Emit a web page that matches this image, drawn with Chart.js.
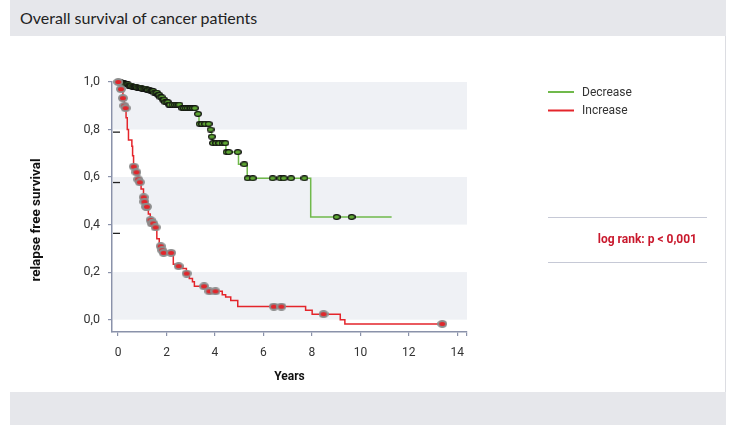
<!DOCTYPE html>
<html>
<head>
<meta charset="utf-8">
<script src="https://cdn.jsdelivr.net/npm/chart.js@4.4.0/dist/chart.umd.min.js"></script>
<style>
  body { margin: 0; width: 734px; height: 425px; overflow: hidden; position: relative; background: #fff; }
  #head { position: absolute; left: 10px; top: 0; width: 716px; height: 36px; background: #e6e7eb; }
  #head span { position: absolute; left: 10px; top: 8px; font: 16px Lato, sans-serif; color: #222; }
  #panel { position: absolute; left: 10px; top: 36px; width: 715px; height: 356px; background: #fff; border-right: 1px solid #dcdde2; }
  #foot { position: absolute; left: 10px; top: 392px; width: 716px; height: 33px; background: #e6e7eb; }
  #myChart { position: absolute; left: 0; top: 0; }
</style>
</head>
<body>
<div id="head"><span>Overall survival of cancer patients</span></div>
<div id="panel"></div>
<div id="foot"></div>
<canvas id="myChart" width="734" height="425"></canvas>
<script>
// groups in the legend
const groups = ['Decrease', 'Increase'];

// Kaplan-Meier steps (years, survival from that time on)
const decTime = [0, 0.15, 0.3, 0.45, 0.6, 0.8, 1.0, 1.2, 1.35, 1.5, 1.62, 1.75, 1.85, 1.95, 2.1, 2.6, 3.24, 3.34, 3.81, 3.86, 3.9, 4.45, 4.97, 5.33, 7.95, 11.29];
const decSurv = [1.0, 0.995, 0.99, 0.985, 0.98, 0.976, 0.972, 0.967, 0.962, 0.955, 0.946, 0.936, 0.926, 0.915, 0.905, 0.89, 0.866, 0.824, 0.80, 0.77, 0.743, 0.705, 0.654, 0.595, 0.432, 0.432];
// censored times (the little ellipses)
const decCensor = [0.02, 0.05, 0.1, 0.15, 0.2, 0.25, 0.3, 0.35, 0.4, 0.45, 0.5, 0.55, 0.6, 0.65, 0.7, 0.75, 0.8, 0.85, 0.9, 0.95,
  1.0, 1.05, 1.1, 1.15, 1.2, 1.25, 1.3, 1.35, 1.4, 1.45, 1.5, 1.55, 1.6, 1.65, 1.7, 1.75, 1.8, 1.85, 1.9, 1.95,
  2.0, 2.05, 2.1, 2.15, 2.25, 2.35, 2.45, 2.53, 2.65, 2.72, 2.8, 2.88, 2.95, 3.02, 3.1, 3.17, 3.3, 3.37, 3.47, 3.6, 3.74,
  3.82, 3.87, 3.92, 4.05, 4.18, 4.32, 4.43, 4.48, 4.57, 4.94, 5.21, 5.35, 5.56, 6.38, 6.7, 6.84, 7.14, 7.69, 9.02, 9.64];

const incTime = [0, 0.08, 0.12, 0.2, 0.26, 0.3, 0.33, 0.38, 0.43, 0.57, 0.6, 0.64, 0.75, 0.82, 0.88, 0.95, 1.05, 1.08, 1.15, 1.25, 1.33, 1.38, 1.54, 1.6, 1.7, 1.81, 1.87, 2.28, 2.49, 2.67, 2.82, 2.94, 3.07, 3.15, 3.66, 4.3, 4.44, 4.65, 4.94, 7.74, 8.01, 9.17, 9.36, 13.55];
const incSurv = [1.0, 0.985, 0.97, 0.932, 0.9, 0.89, 0.85, 0.8, 0.756, 0.73, 0.69, 0.644, 0.62, 0.59, 0.578, 0.55, 0.515, 0.496, 0.475, 0.445, 0.419, 0.405, 0.388, 0.34, 0.309, 0.292, 0.281, 0.233, 0.225, 0.215, 0.194, 0.173, 0.159, 0.14, 0.119, 0.105, 0.095, 0.081, 0.055, 0.04, 0.023, 0.0, -0.018, -0.018];
const incCensor = [0.01, 0.12, 0.2, 0.26, 0.31, 0.65, 0.76, 0.83, 0.9, 1.06, 1.09, 1.16, 1.19, 1.34, 1.39, 1.45, 1.55, 1.76, 1.82, 1.88,
  2.19, 2.5, 2.83, 3.55, 3.77, 4.02, 6.43, 6.74, 8.48, 13.38];

const xTicks = [0, 2, 4, 6, 8, 10, 12, 14];
const xTickLabels = ['0', '2', '4', '6', '8', '10', '12', '14'];
const yTicks = [0, 0.2, 0.4, 0.6, 0.8, 1.0];
const yTickLabels = ['0,0', '0,2', '0,4', '0,6', '0,8', '1,0'];
const pText = 'log rank: p < 0,001';

// shaded bands behind the curves and the odd little dashes next to the y axis
const bands = [[0, 0.2], [0.4, 0.6], [0.8, 1.0]];
const yDashes = [0.789, 0.577, 0.363];

const GREEN = '#70b94b';
const RED = '#e4252b';

function survAt(times, surv, t) {
  let s = surv[0];
  for (let i = 0; i < times.length; i++) {
    if (times[i] <= t) s = surv[i];
  }
  return s;
}

function ellipse(w, h, fill, stroke, lw) {
  const c = document.createElement('canvas');
  c.width = w; c.height = h;
  const g = c.getContext('2d');
  g.beginPath();
  g.ellipse(w / 2, h / 2, w / 2 - lw / 2, h / 2 - lw / 2, 0, 0, Math.PI * 2);
  g.fillStyle = fill; g.fill();
  g.lineWidth = lw; g.strokeStyle = stroke; g.stroke();
  return c;
}

const greenDot = ellipse(8, 6, '#5fa834', '#111', 1.2);
const redDot = ellipse(10, 8, '#e2262b', '#8d8d8d', 2);

const decoPlugin = {
  id: 'deco',
  beforeDatasetsDraw(chart) {
    const {ctx, chartArea: a, scales: {y}} = chart;
    ctx.save();
    ctx.fillStyle = '#eff1f5';
    bands.forEach(b => {
      const y0 = y.getPixelForValue(b[1]), y1 = y.getPixelForValue(b[0]);
      ctx.fillRect(a.left + 1, y0, a.right - a.left - 1, y1 - y0);
    });
    ctx.strokeStyle = '#222';
    ctx.lineWidth = 1.3;
    yDashes.forEach(v => {
      const py = y.getPixelForValue(v);
      ctx.beginPath(); ctx.moveTo(a.left + 1, py); ctx.lineTo(a.left + 8, py); ctx.stroke();
    });
    ctx.restore();
  },
  afterDraw(chart) {
    const {ctx, chartArea: a} = chart;
    ctx.save();
    // y axis title
    ctx.translate(37, (a.top + a.bottom) / 2 + 13);
    ctx.rotate(-Math.PI / 2);
    ctx.font = 'bold 13.5px Roboto';
    ctx.fillStyle = '#111';
    ctx.textAlign = 'center';
    ctx.textBaseline = 'middle';
    ctx.fillText('relapse free survival', 0, 0);
    ctx.restore();

    // legend
    ctx.save();
    ctx.font = '12px Roboto';
    ctx.textBaseline = 'middle';
    [0, 1].forEach(i => {
      const ds = chart.data.datasets[i];
      const ly = 92 + i * 18.5;
      ctx.strokeStyle = ds.borderColor;
      ctx.lineWidth = 2;
      ctx.beginPath(); ctx.moveTo(548, ly); ctx.lineTo(574, ly); ctx.stroke();
      ctx.fillStyle = '#333';
      ctx.fillText(ds.label, 582, ly + 0.5);
    });

    // log rank box
    ctx.strokeStyle = '#c6c9d6';
    ctx.lineWidth = 1;
    [217.5, 262.5].forEach(ly => {
      ctx.beginPath(); ctx.moveTo(548, ly); ctx.lineTo(707, ly); ctx.stroke();
    });
    ctx.font = 'bold 12px Roboto';
    ctx.fillStyle = '#c9192d';
    ctx.textAlign = 'right';
    ctx.fillText(pText, 697, 240);
    ctx.restore();
  }
};

new Chart(document.getElementById('myChart'), {
  type: 'line',
  data: {
    datasets: [{
      label: groups[0],
      data: decTime.map((t, i) => ({x: t, y: decSurv[i]})),
      borderColor: GREEN,
      borderWidth: 1.5,
      stepped: true,
      pointRadius: 0,
      clip: false,
      order: 3
    }, {
      label: groups[1],
      data: incTime.map((t, i) => ({x: t, y: incSurv[i]})),
      borderColor: RED,
      borderWidth: 1.5,
      stepped: true,
      pointRadius: 0,
      clip: false,
      order: 2
    }, {
      label: groups[0] + ' censored',
      data: decCensor.map(t => ({x: t, y: survAt(decTime, decSurv, t)})),
      showLine: false,
      pointStyle: greenDot,
      clip: false,
      order: 1
    }, {
      label: groups[1] + ' censored',
      data: incCensor.map(t => ({x: t, y: survAt(incTime, incSurv, t)})),
      showLine: false,
      pointStyle: redDot,
      clip: false,
      order: 0
    }]
  },
  plugins: [decoPlugin],
  options: {
    responsive: false,
    animation: false,
    devicePixelRatio: 1,
    events: [],
    layout: {padding: {left: 0, top: 82, right: 267, bottom: 0}},
    plugins: {legend: {display: false}, tooltip: {enabled: false}},
    scales: {
      x: {
        type: 'linear',
        min: -0.25,
        max: 14.4,
        afterFit: s => { s.height = 93; },
        afterBuildTicks: s => { s.ticks = xTicks.map(v => ({value: v})).concat([{value: s.max}]); },
        border: {color: '#8a92aa', width: 1.5},
        grid: {drawOnChartArea: false, tickLength: 4, color: '#8a92aa', lineWidth: 1.2},
        ticks: {
          padding: 10,
          color: '#333',
          font: {family: 'Roboto', size: 12},
          callback: v => { const i = xTicks.indexOf(v); return i < 0 ? '' : xTickLabels[i]; }
        },
        title: {display: true, text: 'Years', color: '#111', font: {family: 'Roboto', size: 12, weight: 'bold'}, padding: {top: 0, bottom: 41}}
      },
      y: {
        min: -0.052,
        max: 1.0,
        afterFit: s => { s.width = 112; },
        afterBuildTicks: s => { s.ticks = yTicks.map(v => ({value: v})); },
        border: {color: '#8a92aa', width: 1.5},
        grid: {drawOnChartArea: false, tickLength: 4, color: '#8a92aa', lineWidth: 1.2},
        ticks: {
          padding: 8,
          color: '#333',
          font: {family: 'Roboto', size: 12.5},
          callback: v => { const i = yTicks.indexOf(v); return i < 0 ? '' : yTickLabels[i]; }
        }
      }
    }
  }
});
</script>
</body>
</html>
